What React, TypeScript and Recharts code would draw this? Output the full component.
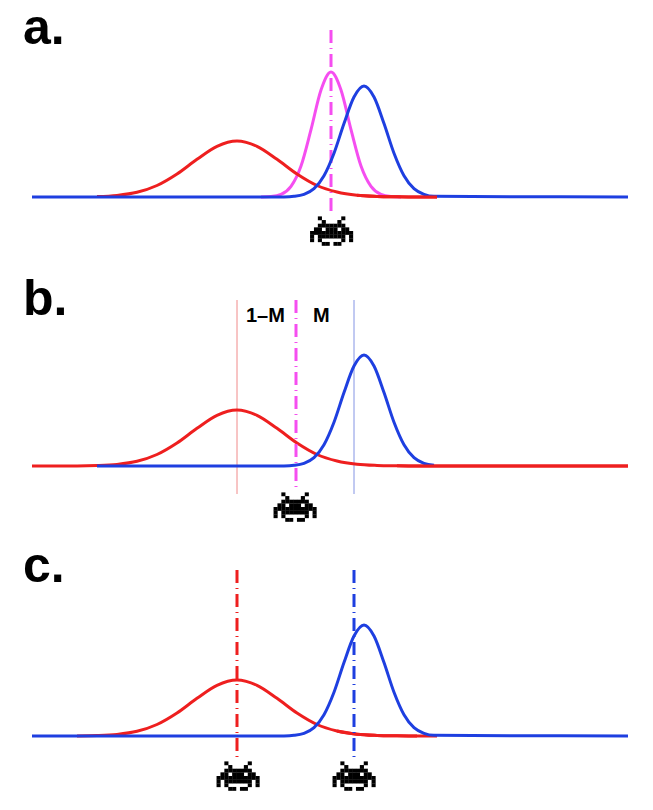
import { LineChart, Line, XAxis, YAxis, ReferenceLine, ReferenceDot } from "recharts";

// curve heights above the baseline (x is in page pixels)
const redX = [32, 77, 97, 117, 137, 157, 177, 197, 217, 237, 257, 277, 297, 317, 337, 357, 377, 397, 417, 437, 628];
const redY = [0, 0, 0.4, 1.6, 4.7, 11.5, 23, 37.7, 50.7, 56, 50.7, 37.7, 23, 11.5, 5, 1.8, 0.6, 0.2, 0, 0, 0];

const blueX = [32, 97, 274, 284, 294, 304, 314, 324, 334, 344, 354, 364, 374, 384, 394, 404, 414, 424, 434, 628];
const blueY = [0, 0, 0, 0.1, 0.7, 2.7, 8.4, 21.3, 43.8, 73.5, 100, 111, 100, 73.5, 43.8, 21.3, 8.4, 2.7, 0.7, 0];
const blueShiftX = 10;

const magentaX = [261, 271, 281, 291, 301, 311, 321, 331, 341, 351, 361, 371, 381, 391, 401];
const magentaY = [0, 0.5, 2.6, 10.6, 31, 67.4, 107, 125, 107, 67.4, 31, 10.6, 2.6, 0.5, 0];

const RED = "#ee1f1f";
const BLUE = "#1e3fe0";
const MAGENTA = "#f54ef0";
const DASH_DOT = "13 5 1 5";

const invaderRows = [
  "..X.....X..",
  "...X...X...",
  "..XXXXXXX..",
  ".XX.XXX.XX.",
  "XXXXXXXXXXX",
  "X.XXXXXXX.X",
  "X.X.....X.X",
  "...XX.XX...",
];

const points = (xs: number[], ys: number[], from = 0, to = 999, shift = 0) =>
  xs.map((x, i) => ({ x: x + shift, y: ys[i] })).filter((p) => p.x >= from && p.x <= to);

const red = (from?: number, to?: number) => points(redX, redY, from, to);
const blue = (from?: number, to?: number) => points(blueX, blueY, from, to);
const magenta = points(magentaX, magentaY);

const Invader = ({ cx, cy }: any) => {
  const w = 3.9;
  const h = 3.65;
  return (
    <g fill="#000">
      {invaderRows.flatMap((row, r) =>
        row.split("").map((c, i) =>
          c === "X" ? (
            <rect key={`${r}-${i}`} x={cx + (i - 5.5) * w} y={cy + (r - 4) * h} width={w + 0.2} height={h + 0.2} />
          ) : null
        )
      )}
    </g>
  );
};

const caption = (text: string, size: number) => ({ cx, cy }: any) => (
  <text x={cx} y={cy} fontFamily="'Liberation Sans', Arial, sans-serif" fontWeight="bold" fontSize={size} fill="#000">
    {text}
  </text>
);

const Curve = ({ data, color }: { data: { x: number; y: number }[]; color: string }) => null;

const line = (key: string, data: { x: number; y: number }[], color: string) => (
  <Line
    key={key}
    data={data}
    dataKey="y"
    type="monotone"
    stroke={color}
    strokeWidth={3}
    dot={false}
    activeDot={false}
    isAnimationActive={false}
  />
);

const vline = (x: number, top: number, bottom: number, color: string, width: number, dash?: string) => (
  <ReferenceLine
    segment={[
      { x, y: top },
      { x, y: bottom },
    ]}
    stroke={color}
    strokeWidth={width}
    strokeDasharray={dash}
    ifOverflow="visible"
  />
);

const Panel = ({ top, base, children }: { top: number; base: number; children: any }) => (
  <div style={{ position: "absolute", left: 0, top }}>
    <LineChart width={653} height={270} margin={{ top: 0, right: 0, bottom: 0, left: 0 }}>
      <XAxis type="number" dataKey="x" domain={[0, 653]} hide allowDuplicatedCategory={false} />
      <YAxis type="number" domain={[base - 270, base]} hide />
      {children}
    </LineChart>
  </div>
);

const App = () => (
  <div style={{ position: "absolute", left: 0, top: 0, width: 653, height: 810, background: "#fff" }}>
    <Panel top={0} base={197}>
      {vline(331, 167, -17, MAGENTA, 3, DASH_DOT)}
      {line("m", magenta, MAGENTA)}
      {line("r", red(97, 437), RED)}
      {line("b", blue(), BLUE)}
      {line("rt", red(357, 437), RED)}
      <ReferenceDot x={331.5} y={-34} r={1} ifOverflow="visible" shape={Invader} />
      <ReferenceDot x={23} y={153} r={1} ifOverflow="visible" shape={caption("a.", 50)} />
    </Panel>
    <Panel top={270} base={196}>
      {vline(237, 166, -28, "#f08a8a", 1)}
      {vline(354, 166, -28, "#8494e4", 1)}
      {line("r", red(), RED)}
      {line("b", blue(97, 437), BLUE)}
      {line("rt", red(397), RED)}
      {vline(296, 166, -24, MAGENTA, 3, DASH_DOT)}
      <ReferenceDot x={295} y={-41} r={1} ifOverflow="visible" shape={Invader} />
      <ReferenceDot x={23} y={151} r={1} ifOverflow="visible" shape={caption("b.", 50)} />
      <ReferenceDot x={246} y={144} r={1} ifOverflow="visible" shape={caption("1–M", 20)} />
      <ReferenceDot x={313} y={144} r={1} ifOverflow="visible" shape={caption("M", 20)} />
    </Panel>
    <Panel top={540} base={196}>
      {line("r", red(77, 437), RED)}
      {line("b", blue(), BLUE)}
      {line("rt", red(337, 417), RED)}
      {vline(237, 166, -22, RED, 3, DASH_DOT)}
      {vline(354, 166, -22, BLUE, 3, DASH_DOT)}
      <ReferenceDot x={238} y={-40} r={1} ifOverflow="visible" shape={Invader} />
      <ReferenceDot x={354} y={-40} r={1} ifOverflow="visible" shape={Invader} />
      <ReferenceDot x={23} y={154} r={1} ifOverflow="visible" shape={caption("c.", 50)} />
    </Panel>
  </div>
);

export default App;
